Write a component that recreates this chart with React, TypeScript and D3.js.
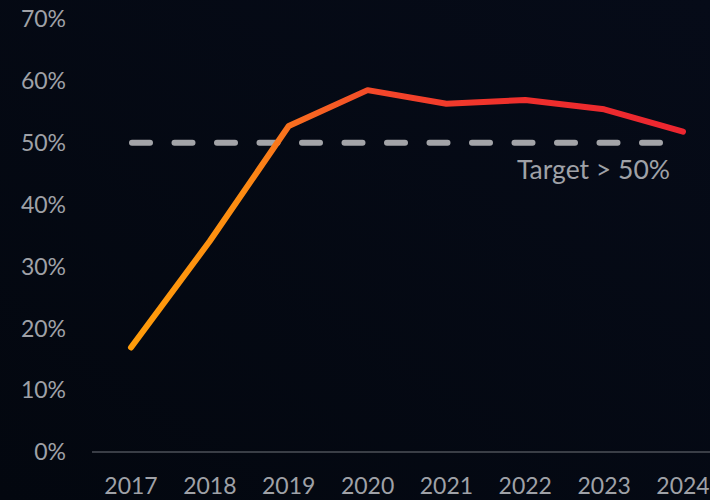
import React from 'react';
import { scaleLinear, scalePoint, line } from 'd3';

const years = ['2017', '2018', '2019', '2020', '2021', '2022', '2023', '2024'];
const shares = [16.9, 34.1, 52.7, 58.5, 56.3, 56.9, 55.4, 51.8];
const yTicks = [0, 10, 20, 30, 40, 50, 60, 70];
const target = 50;
const targetLabel = 'Target > 50%';

const W = 710;
const H = 500;
const font = 'Lato, "Open Sans", sans-serif';

export default function App() {
  const x = scalePoint<string>().domain(years).range([131, 683]);
  const y = scaleLinear().domain([0, 70]).range([452, 19]);

  const pts = years.map((yr, i) => [x(yr) as number, y(shares[i])] as [number, number]);
  const path = line()(pts) || '';

  return (
    <div style={{ position: 'fixed', left: 0, top: 0 }}>
      <svg width={W} height={H} style={{ display: 'block' }}>
        <defs>
          <linearGradient id="bg" x1="0" y1="1" x2="1" y2="0">
            <stop offset="0" stopColor="#03070f" />
            <stop offset="1" stopColor="#060b18" />
          </linearGradient>
          <linearGradient id="lineGrad" gradientUnits="userSpaceOnUse" x1={x('2017')} y1="0" x2={x('2024')} y2="0">
            <stop offset="0" stopColor="#ff9c0a" />
            <stop offset="0.2" stopColor="#fd8c12" />
            <stop offset="0.3" stopColor="#f86c20" />
            <stop offset="0.45" stopColor="#f3462a" />
            <stop offset="0.7" stopColor="#ee2f2c" />
            <stop offset="1" stopColor="#ec2630" />
          </linearGradient>
        </defs>
        <rect width={W} height={H} fill="url(#bg)" />

        {/* y axis labels */}
        {yTicks.map(t => (
          <text key={t} x={66} y={y(t)} dy="0.36em" textAnchor="end" fill="#9fa1a7"
            fontFamily={font} fontSize={23}>{t}%</text>
        ))}

        {/* baseline */}
        <line x1={92} x2={W} y1={y(0)} y2={y(0)} stroke="#4d5059" strokeWidth={1.5} />

        {/* x labels */}
        {years.map(yr => (
          <text key={yr} x={x(yr)} y={494} textAnchor="middle" fill="#9fa1a7"
            fontFamily={font} fontSize={23}>{yr}</text>
        ))}

        {/* target line */}
        <line x1={132} x2={662} y1={y(target)} y2={y(target)} stroke="#a3a4a8" strokeWidth={6}
          strokeDasharray="18 24.5" strokeLinecap="round" />
        <text x={670} y={179} textAnchor="end" fill="#9fa1a7" fontFamily={font} fontSize={26.5}>{targetLabel}</text>

        {/* series */}
        <path d={path} fill="none" stroke="url(#lineGrad)" strokeWidth={6}
          strokeLinecap="round" strokeLinejoin="round" />
      </svg>
    </div>
  );
}
